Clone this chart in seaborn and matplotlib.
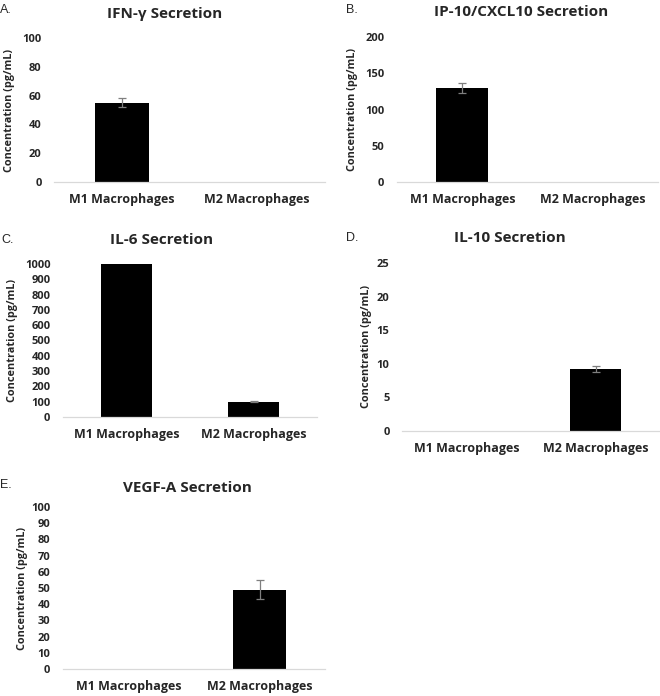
import matplotlib
matplotlib.use("Agg")
import matplotlib.pyplot as plt
import seaborn as sns
import pandas as pd

# ---------------------------------------------------------------------------
# data
# ---------------------------------------------------------------------------
categories = ["M1 Macrophages", "M2 Macrophages"]

ifng_vals = [55, 0]
ifng_sd = [3, 0]

ip10_vals = [130, 0]
ip10_sd = [7, 0]

il6_vals = [1000, 100]
il6_sd = [0, 5]

il10_vals = [0, 9.2]
il10_sd = [0, 0.4]

vegf_vals = [0, 49]
vegf_sd = [0, 6]

titles = ["IFN-\u03b3 Secretion", "IP-10/CXCL10 Secretion", "IL-6 Secretion",
          "IL-10 Secretion", "VEGF-A Secretion"]
letters = ["A.", "B.", "C.", "D.", "E."]
y_maxes = [100, 200, 1000, 25, 100]
y_steps = [20, 50, 100, 5, 10]

W, H = 660, 696
sns.set_style("white")
plt.rcParams['font.family'] = ['Open Sans', 'DejaVu Sans']
plt.rcParams['font.weight'] = 'bold'

# pixel layout: (left, right, y0 pixel, ymax pixel, title_x, title_y, letter_x, letter_y, ylabel_x)
layout = [
    (54, 325, 182, 38, 165, 14, 0, 10, 15),
    (397, 658, 182, 37, 521, 12, 346, 10, 358),
    (63, 317, 417, 264, 162, 240, 1, 240, 18),
    (402, 660, 431, 263, 510, 238, 346, 238, 372),
    (63, 325, 669, 507, 187, 488, 0, 485, 28),
]

panels = [(ifng_vals, ifng_sd), (ip10_vals, ip10_sd), (il6_vals, il6_sd),
          (il10_vals, il10_sd), (vegf_vals, vegf_sd)]

fig = plt.figure(figsize=(W / 100, H / 100), dpi=100)

for i, ((vals, sds), lay) in enumerate(zip(panels, layout)):
    left, right, y0, ytop, tx, ty, lx, ly, ylx = lay
    ax = fig.add_axes([left / W, 1 - y0 / H, (right - left) / W, (y0 - ytop) / H])
    df = pd.DataFrame({'group': categories, 'value': vals})
    sns.barplot(data=df, x='group', y='value', color='black', width=0.4,
                linewidth=0, errorbar=None, ax=ax)
    for p in ax.patches:
        p.set_facecolor('black')
    for xi, (v, s) in enumerate(zip(vals, sds)):
        if s > 0:
            ax.errorbar(xi, v, yerr=s, color='#7f7f7f', elinewidth=0.9,
                        capsize=3, capthick=0.9)
    ax.set_ylim(0, y_maxes[i])
    ax.set_xlim(-0.5, 1.5)
    ax.set_yticks(range(0, y_maxes[i] + 1, y_steps[i]))
    for s in ['top', 'right', 'left']:
        ax.spines[s].set_visible(False)
    ax.spines['bottom'].set_color('#d9d9d9')
    ax.spines['bottom'].set_linewidth(0.9)
    ax.tick_params(axis='both', length=0)
    ax.tick_params(axis='x', labelsize=9, pad=8)
    ax.tick_params(axis='y', labelsize=8, pad=9)
    ax.set_xlabel('')
    ax.set_ylabel('Concentration (pg/mL)', fontsize=7.8, fontweight='bold')
    ax.yaxis.set_label_coords((ylx - left) / (right - left), 0.5)

    fig.text(tx / W, 1 - ty / H, titles[i], ha='center', va='center',
             fontsize=11, fontweight='bold')
    fig.text(lx / W, 1 - ly / H, letters[i], ha='left', va='center',
             fontsize=9, fontweight='normal',
             family=['Liberation Sans', 'DejaVu Sans'])

fig.savefig('out.png', dpi=100, facecolor='white')
